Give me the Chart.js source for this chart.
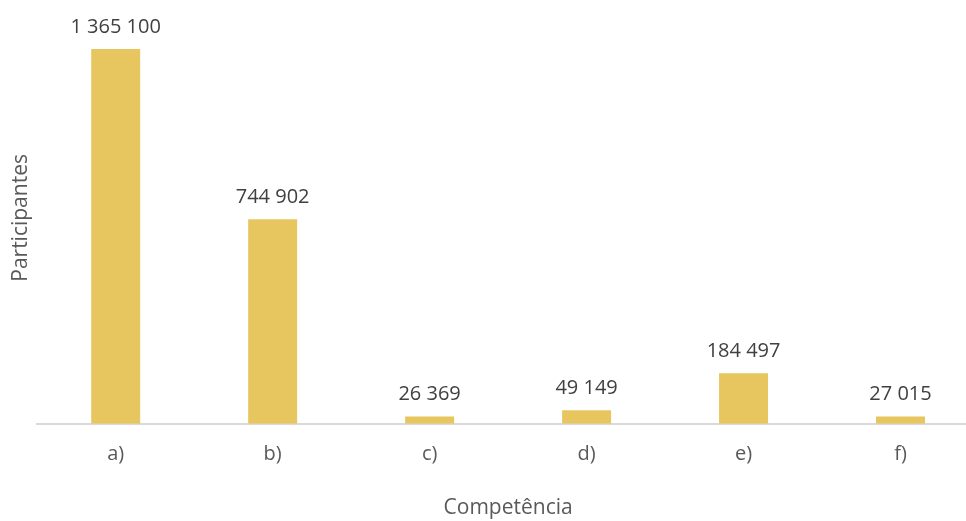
<!DOCTYPE html>
<html lang="pt">
<head>
<meta charset="utf-8">
<script src="https://cdn.jsdelivr.net/npm/chart.js@4"></script>
<style>
  html, body { margin: 0; padding: 0; background: #fff; overflow: hidden; }
  #wrap { width: 990px; height: 521px; }
</style>
</head>
<body>
<div id="wrap"><canvas id="grafico"></canvas></div>
<script>
// Dados
const categorias = ['a)', 'b)', 'c)', 'd)', 'e)', 'f)'];
const participantes = [1365100, 744902, 26369, 49149, 184497, 27015];

const corBarra = '#E8C65F';
const fonte = "'Open Sans', 'Noto Sans', sans-serif";

// separador de milhar com espaço (1 365 100)
function formatarNumero(v) {
    return String(v).replace(/\B(?=(\d{3})+(?!\d))/g, ' ');
}

// rótulos acima das barras
const rotulosBarras = {
    id: 'rotulosBarras',
    afterDatasetsDraw(chart) {
        const ctx = chart.ctx;
        const meta = chart.getDatasetMeta(0);
        ctx.save();
        ctx.font = '20px ' + fonte;
        ctx.fillStyle = '#404040';
        ctx.textAlign = 'center';
        ctx.textBaseline = 'middle';
        meta.data.forEach(function (barra, i) {
            ctx.fillText(formatarNumero(participantes[i]), barra.x, barra.y - 22);
        });
        ctx.restore();
    }
};

const ctx = document.getElementById('grafico').getContext('2d');
new Chart(ctx, {
    type: 'bar',
    data: {
        labels: categorias,
        datasets: [{
            label: 'Participantes',
            data: participantes,
            backgroundColor: corBarra,
            borderWidth: 0,
            barPercentage: 0.52,
            categoryPercentage: 0.6
        }]
    },
    options: {
        responsive: true,
        maintainAspectRatio: false,
        animation: false,
        layout: {
            padding: { top: 12, right: 11, left: 0, bottom: 0 }
        },
        plugins: {
            legend: { display: false },
            tooltip: { enabled: false }
        },
        scales: {
            x: {
                grid: { display: false, drawTicks: false },
                border: { display: true, color: '#D9D9D9', width: 2 },
                ticks: {
                    color: '#595959',
                    padding: 18,
                    font: { family: fonte, size: 20 }
                },
                title: {
                    display: true,
                    text: 'Competência',
                    color: '#595959',
                    font: { family: fonte, size: 21 },
                    padding: { top: 12, bottom: 0 }
                }
            },
            y: {
                min: 0,
                max: 1500000,
                grid: { display: false, drawTicks: false },
                border: { display: false },
                ticks: { display: false },
                title: {
                    display: true,
                    text: 'Participantes',
                    color: '#595959',
                    font: { family: fonte, size: 21 },
                    padding: { top: 8, bottom: 4 }
                }
            }
        }
    },
    plugins: [rotulosBarras]
});
</script>
</body>
</html>
